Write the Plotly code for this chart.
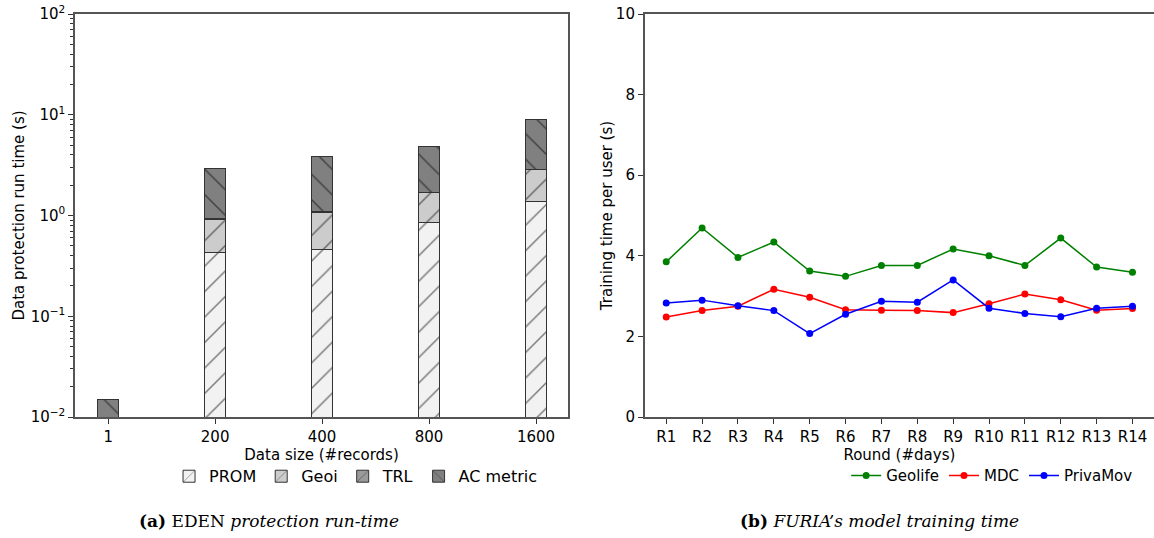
import plotly.graph_objects as go

# left panel: EDEN protection run-time (stacked, seconds)
sizes = ['1', '200', '400', '800', '1600']
prom = [0.001, 0.43, 0.456, 0.86, 1.39]
geoi = [0.001, 0.49, 0.62, 0.82, 1.45]
trl = [0.0005, 0.02, 0.02, 0.02, 0.05]
ac_metric = [0.0125, 1.96, 2.73, 3.17, 6.14]

# right panel: FURIA training time per user (seconds)
rounds = ['R%d' % i for i in range(1, 15)]
geolife = [3.85, 4.69, 3.96, 4.34, 3.62, 3.49, 3.76, 3.76, 4.17, 4.00, 3.76, 4.44, 3.72, 3.59]
mdc = [2.48, 2.64, 2.75, 3.17, 2.97, 2.66, 2.65, 2.64, 2.59, 2.81, 3.05, 2.91, 2.65, 2.69]
privamov = [2.83, 2.90, 2.76, 2.64, 2.07, 2.55, 2.87, 2.85, 3.40, 2.70, 2.57, 2.49, 2.70, 2.75]

FONT = 'DejaVu Sans'
SERIF = 'DejaVu Serif'
EDGE = '#333333'

fig = go.Figure()

bar_series = [
    ('PROM', prom, '#f2f2f2', '/'),
    ('Geoi', geoi, '#cccccc', '/'),
    ('TRL', trl, '#9a9a9a', '/'),
    ('AC metric', ac_metric, '#808080', '\\'),
]
for name, vals, col, hatch in bar_series:
    fig.add_trace(go.Bar(
        x=sizes, y=vals, name=name, width=0.2,
        marker=dict(color=col, line=dict(color=EDGE, width=1),
                    pattern=dict(shape=hatch, fgcolor='black', bgcolor=col,
                                 size=18, solidity=0.08)),
        xaxis='x', yaxis='y', legend='legend',
    ))

line_series = [
    ('Geolife', geolife, 'green'),
    ('MDC', mdc, 'red'),
    ('PrivaMov', privamov, 'blue'),
]
for name, vals, col in line_series:
    fig.add_trace(go.Scatter(
        x=rounds, y=vals, name=name, mode='lines+markers',
        line=dict(color=col, width=1.5), marker=dict(color=col, size=7),
        xaxis='x2', yaxis='y2', legend='legend2',
    ))

minor_vals = [m * 10 ** e for e in (-2, -1, 0, 1) for m in range(2, 10)]

tick_font = dict(family=FONT, size=15, color='black')
title_font = dict(family=FONT, size=15, color='black')
axis_common = dict(showline=True, linecolor='#555555', linewidth=1.5,
                   ticks='outside', ticklen=5, tickcolor='#333333',
                   showgrid=False, zeroline=False, tickfont=tick_font,
                   automargin=False)

# plot area: x 75..1154, y 14..417
fig.update_layout(
    width=1154, height=538,
    margin=dict(l=75, r=0, t=14, b=121),
    plot_bgcolor='white', paper_bgcolor='white',
    barmode='stack',
    font=dict(family=FONT, color='black'),
    xaxis=dict(domain=[0.0, 0.457], range=[-0.31, 4.3], mirror=True,
               title=dict(text='Data size (#records)', font=title_font, standoff=4),
               **axis_common),
    yaxis=dict(type='log', range=[-2, 2], mirror=True,
               tickvals=[0.01, 0.1, 1, 10, 100],
               ticktext=['10<sup>\u22122</sup>', '10<sup>\u22121</sup>', '10<sup>0</sup>',
                         '10<sup>1</sup>', '10<sup>2</sup>'],
               minor=dict(tickmode='array', tickvals=minor_vals, ticks='outside',
                          ticklen=3, tickcolor='#333333'),
               title=dict(text='Data protection run time (s)', font=title_font, standoff=2),
               **axis_common),
    xaxis2=dict(domain=[0.528, 1.0], range=[-0.6, 13.6], mirror=True, anchor='y2',
                title=dict(text='Round (#days)', font=title_font, standoff=2),
                **axis_common),
    yaxis2=dict(range=[0, 10], anchor='x2', dtick=2,
                title=dict(text='Training time per user (s)', font=title_font, standoff=0),
                **axis_common),
    legend=dict(orientation='h', x=0.26, xanchor='center', y=-0.105, yanchor='top',
                font=dict(family=FONT, size=16), traceorder='normal',
                itemwidth=30, bgcolor='rgba(0,0,0,0)'),
    legend2=dict(orientation='h', x=0.85, xanchor='center', y=-0.105, yanchor='top',
                 font=dict(family=FONT, size=15), itemwidth=30,
                 bgcolor='rgba(0,0,0,0)'),
    annotations=[
        dict(text='<b>(a)</b> EDEN <i>protection run-time</i>', x=0.18, y=-0.258,
             xref='paper', yref='paper', showarrow=False, xanchor='center', yanchor='middle',
             font=dict(family=SERIF, size=17, color='black')),
        dict(text="<b>(b)</b> <i>FURIA\u2019s model training time</i>", x=0.746, y=-0.258,
             xref='paper', yref='paper', showarrow=False, xanchor='center', yanchor='middle',
             font=dict(family=SERIF, size=17, color='black')),
    ],
)

# drop the browser's default page margin so the figure sits at (0, 0)
fig.write_html('out.html', config={'displayModeBar': False},
               post_script="document.body.style.margin='0';")
